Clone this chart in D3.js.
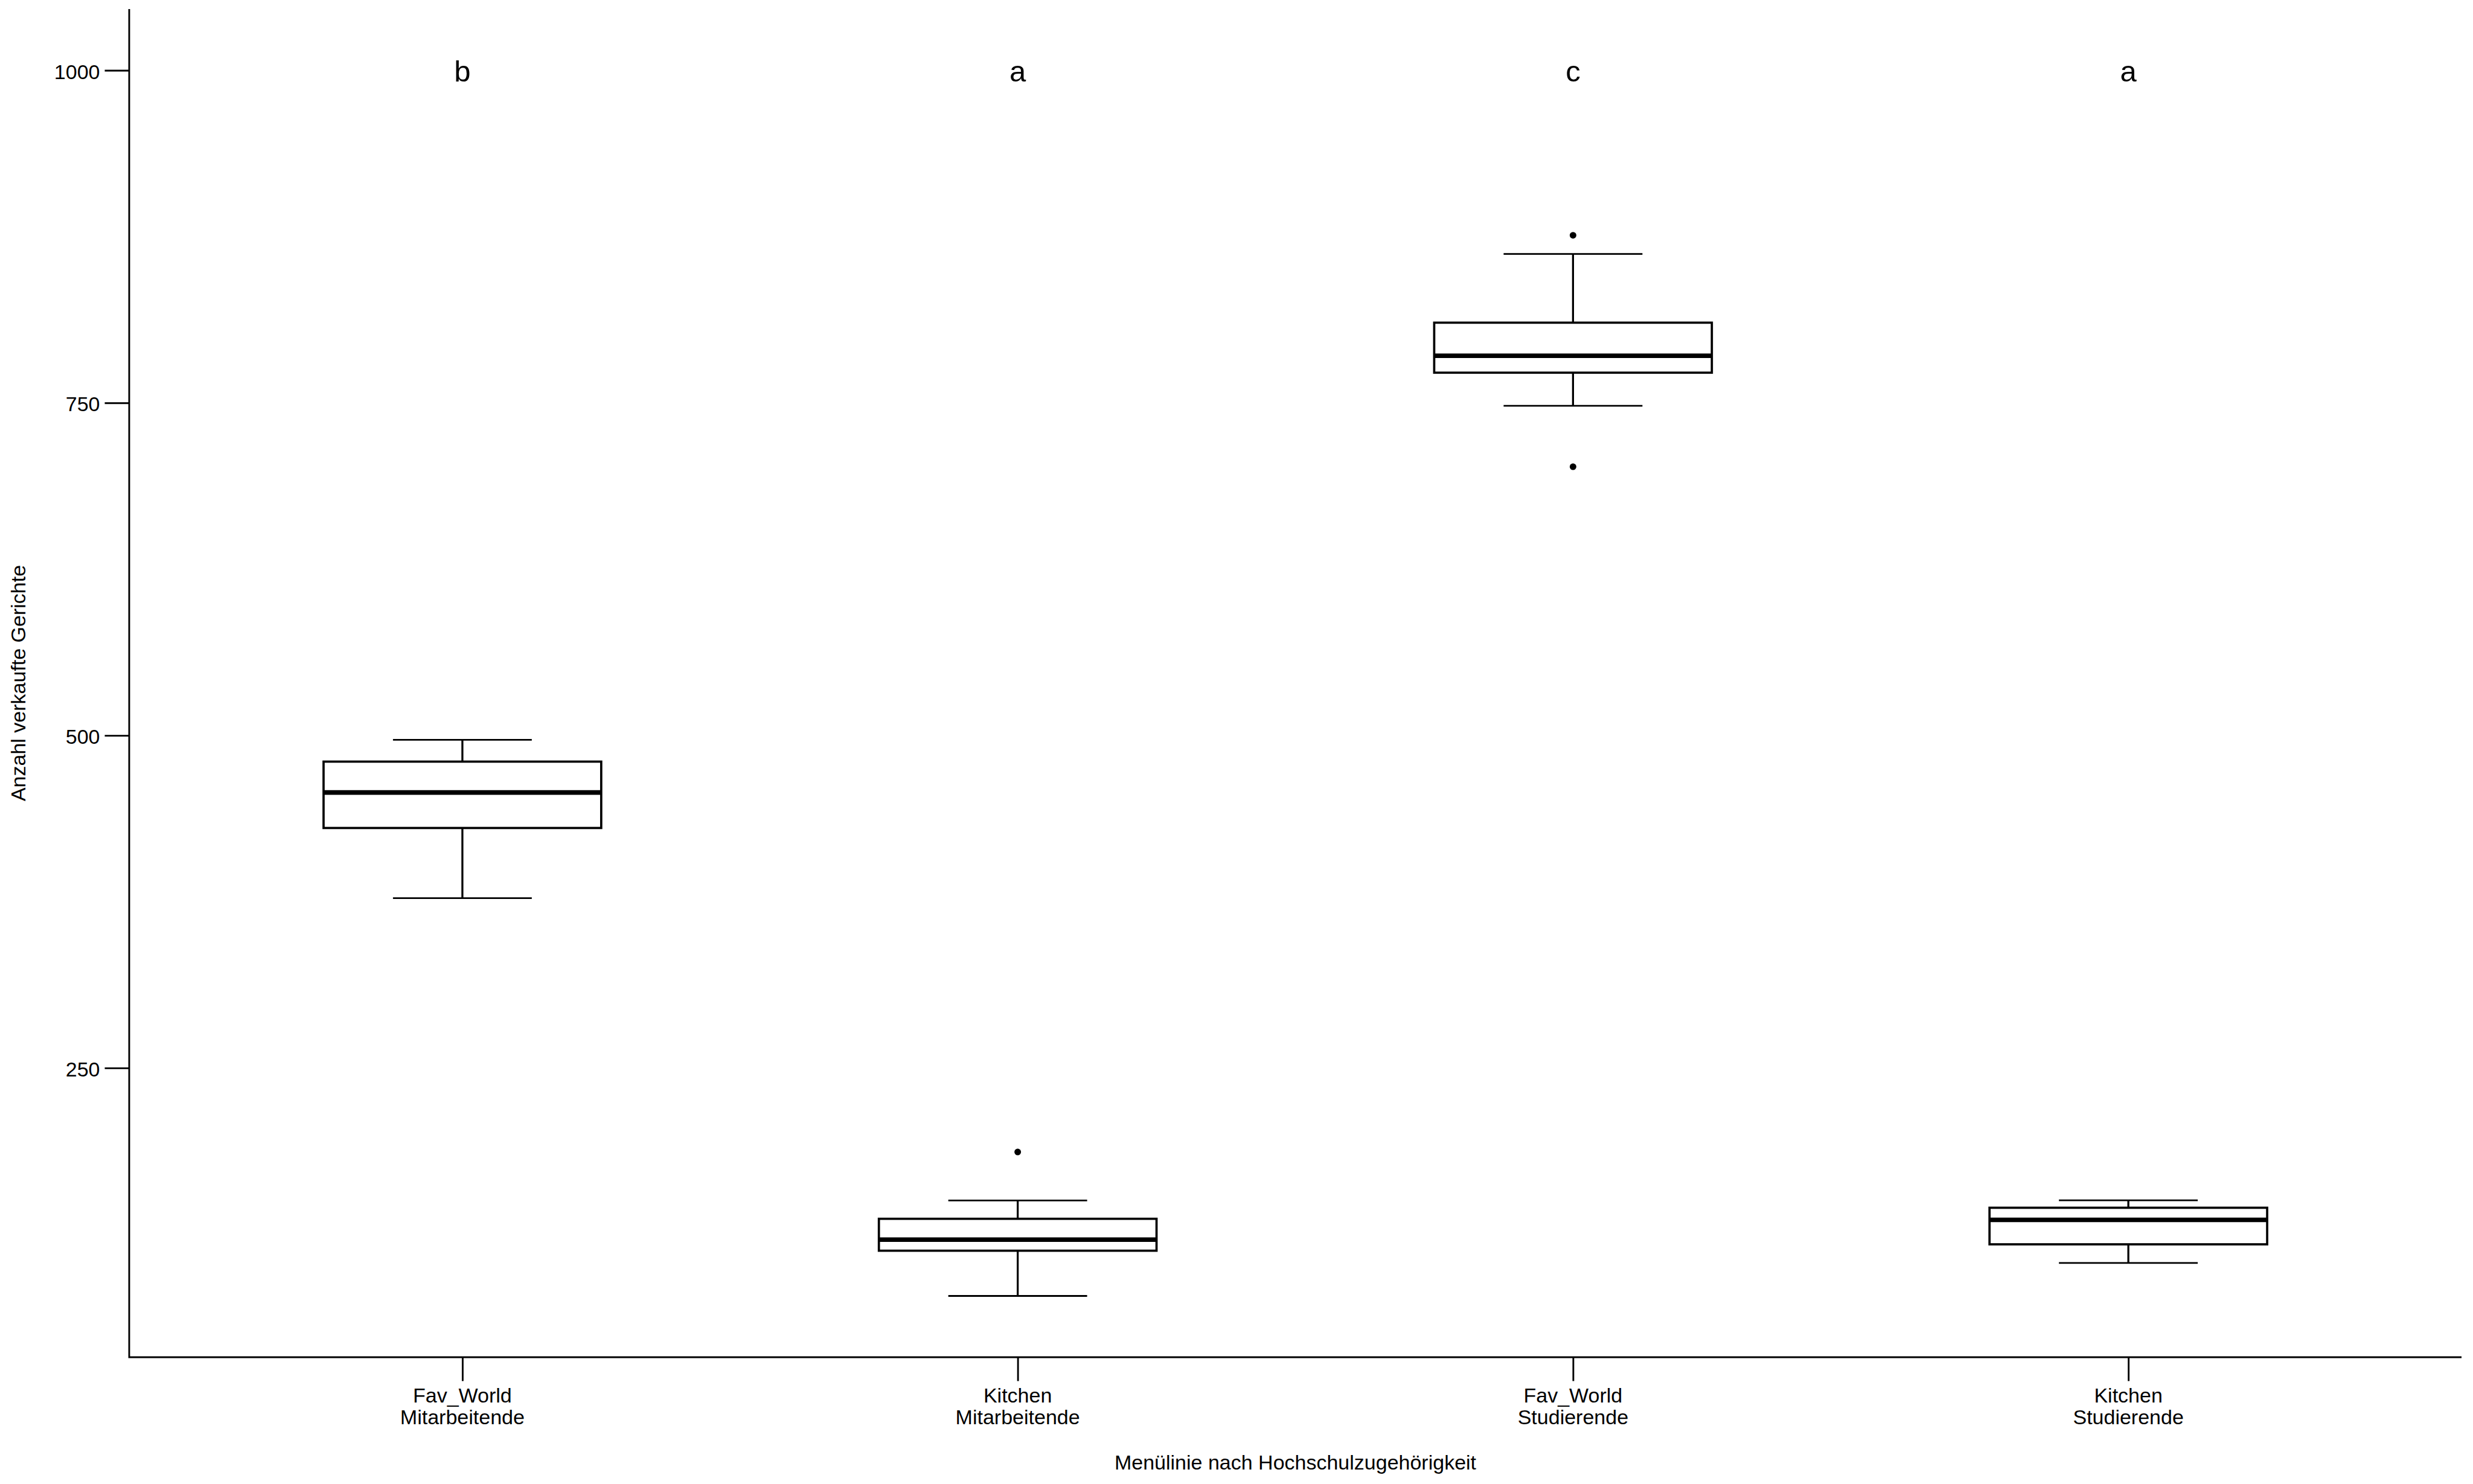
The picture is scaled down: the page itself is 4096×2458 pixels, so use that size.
<!DOCTYPE html>
<html>
<head>
<meta charset="utf-8">
<script src="https://cdn.jsdelivr.net/npm/d3@7"></script>
<style>
  html, body { margin: 0; padding: 0; background: #fff; }
  svg { display: block; }
  text { font-family: "Liberation Sans", Arial, Helvetica, sans-serif; fill: #000; }
</style>
</head>
<body>
<svg id="chart" width="4096" height="2458"></svg>
<script>
// ---- data ----
const menuLines   = ["Fav_World", "Kitchen", "Fav_World", "Kitchen"];
const groups      = ["Mitarbeitende", "Mitarbeitende", "Studierende", "Studierende"];
const lowerWhisk  = [377.7, 78.6, 747.8, 103.4];
const q1Values    = [430.4, 112.6, 772.7, 117.4];
const medianVals  = [457.1, 120.9, 785.4, 135.8];
const q3Values    = [480.3, 136.6, 810.3, 144.9];
const upperWhisk  = [496.7, 150.4, 862.0, 150.5];
const outliers    = [[], [186.8], [876.0, 702.0], []];
const sigLetters  = ["b", "a", "c", "a"];
const letterLevel = 1000;
const yTicks      = [250, 500, 750, 1000];
const xTitle = "Menülinie nach Hochschulzugehörigkeit";
const yTitle = "Anzahl verkaufte Gerichte";

// ---- layout ----
const W = 4096, H = 2458;
const mLeft = 214, mRight = 4077, mTop = 15, mBottom = 2248;
const svg = d3.select("#chart");

const keys = menuLines.map((m, i) => i);
const x = d3.scalePoint().domain(keys).range([mLeft, mRight]).padding(0.6);
const step = x.step();

const dataMin = d3.min([...lowerWhisk, ...outliers.flat()]);
const dataMax = d3.max([...upperWhisk, ...outliers.flat(), letterLevel]);
const pad = 0.05 * (dataMax - dataMin);
const y = d3.scaleLinear().domain([dataMin - pad, dataMax + pad]).range([mBottom, mTop]);

const lw = 3.3;

// ---- boxes ----
const g = svg.append("g");
keys.forEach(i => {
  const cx = x(i);
  const bw = step * 0.5, cw = step * 0.25;
  g.append("line").attr("x1", cx).attr("x2", cx).attr("y1", y(upperWhisk[i])).attr("y2", y(q3Values[i]))
    .attr("stroke", "#000").attr("stroke-width", lw);
  g.append("line").attr("x1", cx).attr("x2", cx).attr("y1", y(q1Values[i])).attr("y2", y(lowerWhisk[i]))
    .attr("stroke", "#000").attr("stroke-width", lw);
  [upperWhisk[i], lowerWhisk[i]].forEach(v => {
    g.append("line").attr("x1", cx - cw / 2).attr("x2", cx + cw / 2).attr("y1", y(v)).attr("y2", y(v))
      .attr("stroke", "#000").attr("stroke-width", lw * 0.85);
  });
  g.append("rect").attr("x", cx - bw / 2).attr("width", bw)
    .attr("y", y(q3Values[i])).attr("height", y(q1Values[i]) - y(q3Values[i]))
    .attr("fill", "#fff").attr("stroke", "#000").attr("stroke-width", lw + 0.4);
  g.append("line").attr("x1", cx - bw / 2).attr("x2", cx + bw / 2)
    .attr("y1", y(medianVals[i])).attr("y2", y(medianVals[i]))
    .attr("stroke", "#000").attr("stroke-width", 7.6);
  outliers[i].forEach(v => {
    g.append("circle").attr("cx", cx).attr("cy", y(v)).attr("r", 5.5).attr("fill", "#000");
  });
  g.append("text").attr("x", cx).attr("y", y(letterLevel)).attr("dy", "0.375em")
    .attr("text-anchor", "middle").attr("font-size", 49).text(sigLetters[i]);
});

// ---- axes ----
const axW = 2.9;
const yAxis = svg.append("g").attr("transform", `translate(${mLeft},0)`)
  .call(d3.axisLeft(y).tickValues(yTicks).tickFormat(d3.format("d"))
    .tickSize(40.5).tickSizeOuter(0).tickPadding(8));
yAxis.select(".domain").remove();
yAxis.selectAll(".tick line").attr("stroke", "#000").attr("stroke-width", axW);
yAxis.selectAll(".tick text").attr("font-size", 34).attr("dy", "0.4em")
  .attr("font-family", "Liberation Sans, Arial, sans-serif").attr("fill", "#000");

const xAxis = svg.append("g").attr("transform", `translate(0,${mBottom})`)
  .call(d3.axisBottom(x).tickSize(39.5).tickSizeOuter(0).tickFormat(""));
xAxis.select(".domain").remove();
xAxis.selectAll(".tick line").attr("stroke", "#000").attr("stroke-width", axW);
xAxis.selectAll(".tick text").remove();
keys.forEach(i => {
  const t = svg.append("text").attr("text-anchor", "middle").attr("font-size", 34);
  t.append("tspan").attr("x", x(i)).attr("y", 2323).text(menuLines[i]);
  t.append("tspan").attr("x", x(i)).attr("y", 2359).text(groups[i]);
});

svg.append("path")
  .attr("d", `M${mLeft},${mTop}V${mBottom}H${mRight}`)
  .attr("fill", "none").attr("stroke", "#000").attr("stroke-width", axW)
  .attr("stroke-linejoin", "miter").attr("stroke-linecap", "butt");

svg.append("text").attr("x", (mLeft + mRight) / 2).attr("y", 2434)
  .attr("text-anchor", "middle").attr("font-size", 34).text(xTitle);
svg.append("text").attr("transform", `translate(41.6,${(mTop + mBottom) / 2}) rotate(-90)`)
  .attr("text-anchor", "middle").attr("font-size", 34).text(yTitle);
</script>
</body>
</html>
